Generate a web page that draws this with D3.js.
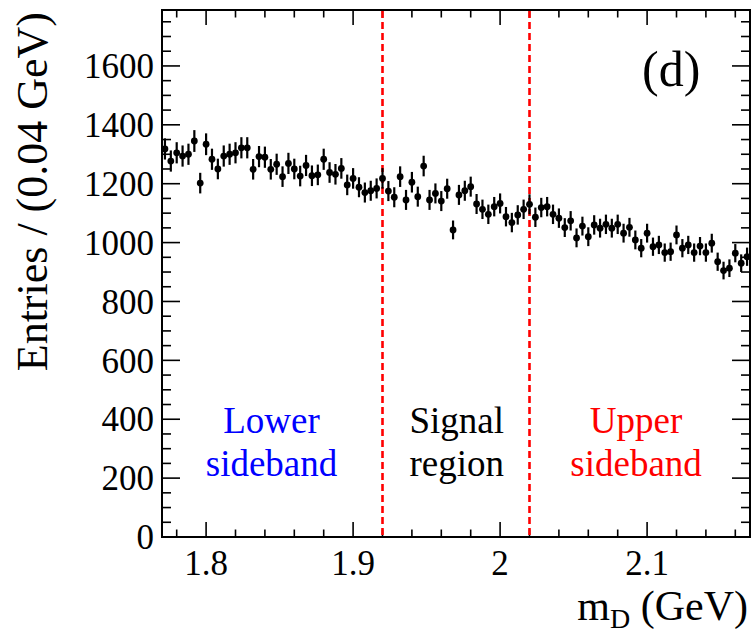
<!DOCTYPE html>
<html>
<head>
<meta charset="utf-8">
<script src="https://cdn.jsdelivr.net/npm/d3@7"></script>
<style>
  html, body { margin: 0; padding: 0; background: #fff; }
  svg { display: block; }
</style>
</head>
<body>
<svg id="chart" width="753" height="639"></svg>
<script>
// ---- data ----
const binStart = 1.77;
const binWidth = 0.004;
const entries = [
  1318,1277,1305,1294,1300,1345,1202,1334,1283,1250,
  1294,1300,1305,1322,1322,1249,1292,1290,1249,1266,
  1224,1269,1250,1226,1262,1227,1230,1283,1238,1232,
  1252,1196,1218,1188,1170,1176,1184,1218,1175,1154,
  1224,1145,1205,1156,1260,1145,1167,1141,1183,1043,
  1162,1176,1190,1131,1113,1096,1122,1133,1088,1068,
  1094,1113,1130,1086,1119,1122,1096,1083,1051,1074,
  1016,1056,1020,1060,1049,1062,1049,1062,1032,1052,
  1009, 981,1032, 986, 992, 966, 969,1026, 981, 992,
   966, 988, 966, 998, 935, 905, 913, 964, 930, 952
];
const errors = [
  36,36,36,36,36,37,35,37,36,35,
  36,36,36,36,36,35,36,36,35,36,
  35,36,35,35,36,35,35,36,35,35,
  35,35,35,34,34,34,34,35,34,34,
  35,34,35,34,35,34,34,34,34,32,
  34,34,34,34,33,33,33,34,33,33,
  33,33,34,33,33,33,33,33,32,33,
  32,32,32,33,32,33,32,33,32,32,
  32,31,32,31,31,31,31,32,31,31,
  31,31,31,32,31,30,30,31,30,31
];
const xTickValues = [1.8, 1.9, 2.0, 2.1];
const xTickLabels = ["1.8", "1.9", "2", "2.1"];
const yTickValues = [0, 200, 400, 600, 800, 1000, 1200, 1400, 1600];
const regionBounds = [1.92, 2.02];
const regionLabels = [
  { lines: ["Lower", "sideband"], color: "#0000ff", x: 1.8445 },
  { lines: ["Signal", "region"], color: "#000000", x: 1.9705 },
  { lines: ["Upper", "sideband"], color: "#ff0000", x: 2.0925 }
];
const xDomain = [1.77, 2.17];
const yDomain = [0, 1790];

// ---- layout ----
const L = 162, R = 750, T = 10, B = 537;
const svg = d3.select("#chart");
const font = "'Liberation Serif', 'Times New Roman', serif";

const x = d3.scaleLinear().domain(xDomain).range([L, R]);
const y = d3.scaleLinear().domain(yDomain).range([B, T]);

const centers = entries.map((_, i) => binStart + binWidth * (i + 0.5));

// frame
svg.append("rect")
  .attr("x", L).attr("y", T).attr("width", R - L).attr("height", B - T)
  .attr("fill", "none").attr("stroke", "#000").attr("stroke-width", 2);

// ticks
const xMinor = d3.range(1.78, 2.1701, 0.02).map(v => +v.toFixed(3));
const yMinor = d3.range(0, 1751, 50);
const tg = svg.append("g").attr("stroke", "#000").attr("stroke-width", 1.6);
xMinor.forEach(v => {
  const major = xTickValues.some(t => Math.abs(t - v) < 1e-6);
  const len = major ? 15 : 7.5;
  tg.append("line").attr("x1", x(v)).attr("x2", x(v)).attr("y1", B).attr("y2", B - len);
  tg.append("line").attr("x1", x(v)).attr("x2", x(v)).attr("y1", T).attr("y2", T + len);
});
yMinor.forEach(v => {
  const major = v % 200 === 0;
  const len = major ? 18 : 9;
  tg.append("line").attr("x1", L).attr("x2", L + len).attr("y1", y(v)).attr("y2", y(v));
  tg.append("line").attr("x1", R).attr("x2", R - len).attr("y1", y(v)).attr("y2", y(v));
});

// tick labels
svg.append("g").selectAll("text").data(xTickValues).join("text")
  .attr("x", d => x(d)).attr("y", 575)
  .attr("text-anchor", "middle")
  .attr("font-family", font).attr("font-size", 35)
  .text((d, i) => xTickLabels[i]);
svg.append("g").selectAll("text").data(yTickValues).join("text")
  .attr("x", 154).attr("y", d => y(d))
  .attr("dy", "0.35em")
  .attr("text-anchor", "end")
  .attr("font-family", font).attr("font-size", 35)
  .text(d => d);

// axis titles
const xt = svg.append("text")
  .attr("x", 748).attr("y", 620)
  .attr("text-anchor", "end")
  .attr("font-family", font).attr("font-size", 42);
xt.append("tspan").text("m");
xt.append("tspan").attr("font-size", 28).attr("dy", 8).text("D");
xt.append("tspan").attr("dy", -8).text(" (GeV)");

svg.append("text")
  .attr("transform", "translate(47,12) rotate(-90)")
  .attr("text-anchor", "end")
  .attr("font-family", font).attr("font-size", 44)
  .text("Entries / (0.04 GeV)");

// panel label
svg.append("text")
  .attr("x", 642).attr("y", 86)
  .attr("font-family", font).attr("font-size", 50)
  .text("(d)");

// region lines
svg.append("g").selectAll("line").data(regionBounds).join("line")
  .attr("x1", d => x(d)).attr("x2", d => x(d))
  .attr("y1", T + 1).attr("y2", B - 1)
  .attr("stroke", "#ff0000").attr("stroke-width", 2.6)
  .attr("stroke-dasharray", "7,4");

// region labels
regionLabels.forEach(r => {
  r.lines.forEach((ln, j) => {
    svg.append("text")
      .attr("x", x(r.x)).attr("y", 433 + j * 43)
      .attr("text-anchor", "middle")
      .attr("font-family", font).attr("font-size", 37)
      .attr("fill", r.color)
      .text(ln);
  });
});

// data points
const pg = svg.append("g");
pg.selectAll("line").data(entries).join("line")
  .attr("x1", (d, i) => x(centers[i])).attr("x2", (d, i) => x(centers[i]))
  .attr("y1", (d, i) => y(d + errors[i])).attr("y2", (d, i) => y(d - errors[i]))
  .attr("stroke", "#000").attr("stroke-width", 2.2);
pg.selectAll("circle").data(entries).join("circle")
  .attr("cx", (d, i) => x(centers[i])).attr("cy", d => y(d))
  .attr("r", 3.4).attr("fill", "#000");
</script>
</body>
</html>
